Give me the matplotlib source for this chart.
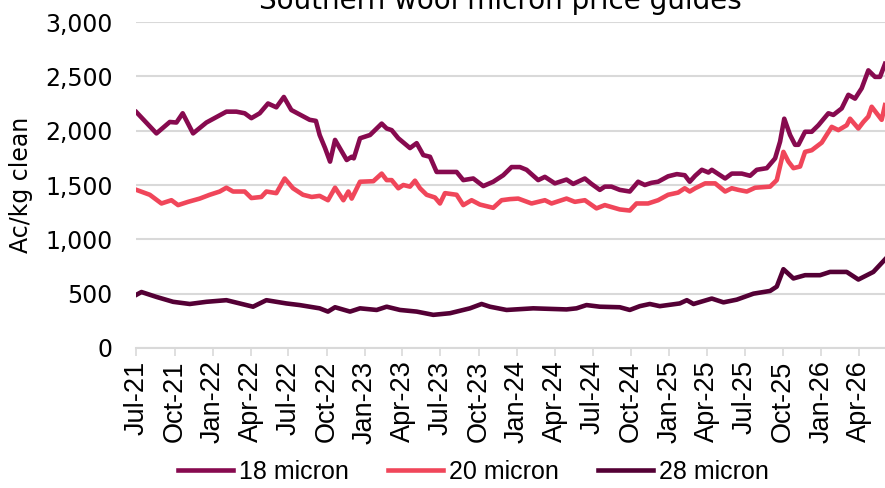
import pandas as pd
import matplotlib
matplotlib.use("Agg")
import matplotlib.pyplot as plt
import matplotlib.dates as mdates
from matplotlib.ticker import FuncFormatter

# 18 micron (Ac/kg clean)
dates_18 = ["2021-07-01", "2021-08-18", "2021-09-19", "2021-10-05", "2021-10-20", "2021-11-14",
            "2021-12-16", "2022-02-02", "2022-02-26", "2022-03-18", "2022-04-03", "2022-04-23",
            "2022-05-13", "2022-06-02", "2022-06-20", "2022-07-08", "2022-08-21", "2022-09-05",
            "2022-09-14", "2022-09-27", "2022-10-09", "2022-10-21", "2022-11-18", "2022-11-30",
            "2022-12-05", "2022-12-20", "2023-01-13", "2023-02-10", "2023-02-22", "2023-03-06",
            "2023-03-22", "2023-04-19", "2023-05-05", "2023-05-21", "2023-06-06", "2023-06-22",
            "2023-07-16", "2023-08-09", "2023-08-25", "2023-09-18", "2023-10-12", "2023-11-05",
            "2023-11-29", "2023-12-19", "2024-01-08", "2024-01-24", "2024-02-21", "2024-03-08",
            "2024-04-01", "2024-04-29", "2024-05-15", "2024-06-12", "2024-06-28", "2024-07-18",
            "2024-07-30", "2024-08-15", "2024-09-04", "2024-09-28", "2024-10-18", "2024-11-03",
            "2024-11-19", "2024-12-05", "2024-12-29", "2025-01-19", "2025-02-07", "2025-02-19",
            "2025-03-04", "2025-03-20", "2025-04-05", "2025-04-13", "2025-05-15", "2025-05-31",
            "2025-06-24", "2025-07-14", "2025-07-30", "2025-08-23", "2025-09-12", "2025-09-24",
            "2025-10-04", "2025-10-18", "2025-10-30", "2025-11-07", "2025-11-23", "2025-12-09",
            "2025-12-25", "2026-01-18", "2026-01-30", "2026-02-19", "2026-03-07", "2026-03-23",
            "2026-04-08", "2026-04-24", "2026-05-10", "2026-05-22", "2026-06-03"]
micron_18 = [2170, 1975, 2080, 2075, 2160, 1975,
             2075, 2175, 2175, 2160, 2115, 2160,
             2250, 2215, 2310, 2190, 2100, 2090,
             1960, 1840, 1715, 1915, 1730, 1760,
             1745, 1930, 1960, 2065, 2020, 2005,
             1930, 1840, 1885, 1775, 1760, 1620,
             1620, 1620, 1545, 1560, 1490, 1530,
             1590, 1665, 1665, 1640, 1545, 1575,
             1515, 1550, 1510, 1560, 1510, 1455,
             1485, 1485, 1455, 1440, 1530, 1500,
             1520, 1530, 1580, 1600, 1590, 1530,
             1585, 1640, 1615, 1640, 1560, 1605,
             1605, 1585, 1640, 1655, 1745, 1900,
             2110, 1960, 1870, 1870, 1990, 1990,
             2050, 2160, 2145, 2205, 2330, 2295,
             2390, 2555, 2495, 2495, 2615]

# 20 micron
dates_20 = ["2021-07-01", "2021-08-02", "2021-08-30", "2021-09-23", "2021-10-09", "2021-11-02",
            "2021-11-30", "2021-12-24", "2022-01-17", "2022-02-02", "2022-02-18", "2022-03-18",
            "2022-04-03", "2022-04-27", "2022-05-09", "2022-06-02", "2022-06-22", "2022-07-12",
            "2022-08-05", "2022-08-26", "2022-09-14", "2022-10-04", "2022-10-21", "2022-11-10",
            "2022-11-22", "2022-11-30", "2022-12-20", "2023-01-21", "2023-02-10", "2023-02-22",
            "2023-03-06", "2023-03-22", "2023-04-03", "2023-04-19", "2023-05-01", "2023-05-13",
            "2023-05-29", "2023-06-18", "2023-06-30", "2023-07-12", "2023-08-09", "2023-08-25",
            "2023-09-14", "2023-10-04", "2023-11-05", "2023-11-25", "2023-12-15", "2024-01-04",
            "2024-02-05", "2024-03-08", "2024-03-24", "2024-04-29", "2024-05-19", "2024-06-12",
            "2024-07-10", "2024-07-30", "2024-09-04", "2024-09-28", "2024-10-14", "2024-11-11",
            "2024-12-05", "2024-12-29", "2025-01-22", "2025-02-07", "2025-02-19", "2025-03-04",
            "2025-03-28", "2025-04-21", "2025-05-15", "2025-05-31", "2025-06-16", "2025-07-06",
            "2025-07-26", "2025-08-31", "2025-09-16", "2025-10-02", "2025-10-14", "2025-10-26",
            "2025-11-11", "2025-11-23", "2025-12-09", "2026-01-02", "2026-01-26", "2026-02-11",
            "2026-03-03", "2026-03-11", "2026-03-31", "2026-04-12", "2026-04-24", "2026-05-02",
            "2026-05-26", "2026-06-03"]
micron_20 = [1455, 1410, 1330, 1360, 1315, 1345,
             1375, 1410, 1440, 1475, 1440, 1440,
             1380, 1390, 1440, 1425, 1560, 1470,
             1410, 1390, 1400, 1360, 1475, 1360,
             1440, 1375, 1530, 1535, 1605, 1545,
             1545, 1470, 1500, 1485, 1540, 1470,
             1410, 1385, 1330, 1425, 1410, 1315,
             1360, 1320, 1290, 1360, 1370, 1375,
             1330, 1360, 1330, 1375, 1345, 1360,
             1285, 1315, 1275, 1265, 1330, 1330,
             1360, 1410, 1430, 1470, 1440, 1470,
             1515, 1515, 1440, 1470, 1455, 1440,
             1475, 1485, 1545, 1805, 1715, 1655,
             1670, 1805, 1820, 1890, 2035, 2005,
             2050, 2110, 2020, 2080, 2130, 2220,
             2100, 2235]

# 28 micron
dates_28 = ["2021-07-01", "2021-07-13", "2021-08-18", "2021-09-27", "2021-11-06", "2021-12-16",
            "2022-02-02", "2022-03-06", "2022-04-07", "2022-05-09", "2022-06-26", "2022-07-28",
            "2022-09-14", "2022-10-04", "2022-10-21", "2022-11-26", "2022-12-20", "2023-01-29",
            "2023-02-22", "2023-03-26", "2023-05-05", "2023-06-14", "2023-07-24", "2023-09-10",
            "2023-10-08", "2023-10-28", "2023-12-07", "2024-02-09", "2024-04-29", "2024-05-23",
            "2024-06-16", "2024-07-18", "2024-09-04", "2024-09-28", "2024-10-22", "2024-11-15",
            "2024-12-09", "2025-01-26", "2025-02-12", "2025-02-28", "2025-04-13", "2025-05-11",
            "2025-06-12", "2025-07-22", "2025-08-31", "2025-09-16", "2025-10-02", "2025-10-26",
            "2025-11-23", "2025-12-29", "2026-01-22", "2026-03-03", "2026-03-31", "2026-05-06",
            "2026-06-03"]
micron_28 = [490, 515, 470, 425, 405, 425,
             440, 410, 380, 440, 410, 395,
             365, 335, 375, 335, 365, 350,
             380, 350, 335, 305, 320, 365,
             405, 380, 350, 365, 355, 365,
             395, 380, 375, 350, 385, 405,
             385, 410, 440, 405, 455, 420,
             445, 500, 525, 565, 725, 640,
             670, 670, 700, 700, 630, 700,
             815]

series = [("18 micron", dates_18, micron_18, "#870A4F"),
          ("20 micron", dates_20, micron_20, "#F0465A"),
          ("28 micron", dates_28, micron_28, "#540035")]

fig = plt.figure(figsize=(8.85, 4.88), dpi=100)
ax = fig.add_axes([0.1542, 0.2869, 0.8458, 0.668])

for name, d, v, c in series:
    ax.plot(pd.to_datetime(d), v, color=c, lw=3.3, solid_joinstyle="round", label=name)

ax.set_xlim(pd.Timestamp(dates_18[0]), pd.Timestamp(dates_18[-1]))
ax.set_ylim(0, 3000)
ax.set_yticks(range(0, 3001, 500))
ax.yaxis.set_major_formatter(FuncFormatter(lambda v, p: f"{int(v):,}"))
ax.grid(axis="y", color="#D9D9D9", lw=1.5)
ax.set_axisbelow(True)
for s in ["top", "right", "left"]:
    ax.spines[s].set_visible(False)
ax.spines["bottom"].set_color("#D9D9D9")
ax.spines["bottom"].set_linewidth(1.5)

ax.xaxis.set_major_locator(mdates.MonthLocator(bymonth=[1, 4, 7, 10]))
ax.xaxis.set_major_formatter(mdates.DateFormatter("%b-%y"))
ax.tick_params(axis="x", length=6, width=1.2, color="#D9D9D9", pad=3, rotation=90)
ax.tick_params(axis="y", length=0, pad=17)
for lab in ax.get_xticklabels():
    lab.set_family(["Liberation Sans Narrow", "Liberation Sans"])
    lab.set_fontsize(19.5)
for lab in ax.get_yticklabels():
    lab.set_fontsize(17)

ax.set_ylabel("Ac/kg clean", fontsize=17, labelpad=9)

fig.text(0.565, 1 - 9 / 488, "Southern wool micron price guides", ha="center",
         va="baseline", fontsize=20)

fig.legend(loc="center", bbox_to_anchor=(0.535, 1 - 472 / 488), ncol=3, frameon=False,
           handlelength=2.2, handletextpad=0.25, columnspacing=1.55,
           prop={"family": ["Liberation Sans Narrow", "Liberation Sans"], "size": 18})

fig.savefig("out.png", dpi=100)
